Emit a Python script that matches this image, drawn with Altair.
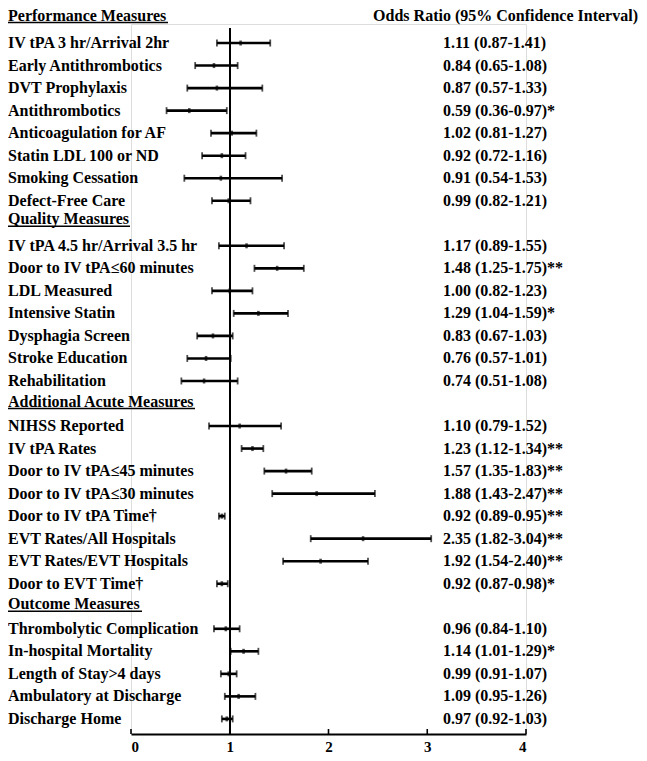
import altair as alt
import pandas as pd

# ---------------- data ----------------
sections = ["Performance Measures", "Quality Measures",
            "Additional Acute Measures", "Outcome Measures"]

perf_labels = ["IV tPA 3 hr/Arrival 2hr", "Early Antithrombotics", "DVT Prophylaxis",
               "Antithrombotics", "Anticoagulation for AF", "Statin LDL 100 or ND",
               "Smoking Cessation", "Defect-Free Care"]
perf_or = [1.11, 0.84, 0.87, 0.59, 1.02, 0.92, 0.91, 0.99]
perf_lo = [0.87, 0.65, 0.57, 0.36, 0.81, 0.72, 0.54, 0.82]
perf_hi = [1.41, 1.08, 1.33, 0.97, 1.27, 1.16, 1.53, 1.21]
perf_sig = ["", "", "", "*", "", "", "", ""]

qual_labels = ["IV tPA 4.5 hr/Arrival 3.5 hr", "Door to IV tPA\u226460 minutes", "LDL Measured",
               "Intensive Statin", "Dysphagia Screen", "Stroke Education", "Rehabilitation"]
qual_or = [1.17, 1.48, 1.00, 1.29, 0.83, 0.76, 0.74]
qual_lo = [0.89, 1.25, 0.82, 1.04, 0.67, 0.57, 0.51]
qual_hi = [1.55, 1.75, 1.23, 1.59, 1.03, 1.01, 1.08]
qual_sig = ["", "**", "", "*", "", "", ""]

acute_labels = ["NIHSS Reported", "IV tPA Rates", "Door to IV tPA\u226445 minutes",
                "Door to IV tPA\u226430 minutes", "Door to IV tPA Time\u2020",
                "EVT Rates/All Hospitals", "EVT Rates/EVT Hospitals", "Door to EVT Time\u2020"]
acute_or = [1.10, 1.23, 1.57, 1.88, 0.92, 2.35, 1.92, 0.92]
acute_lo = [0.79, 1.12, 1.35, 1.43, 0.89, 1.82, 1.54, 0.87]
acute_hi = [1.52, 1.34, 1.83, 2.47, 0.95, 3.04, 2.40, 0.98]
acute_sig = ["", "**", "**", "**", "**", "**", "**", "*"]

out_labels = ["Thrombolytic Complication", "In-hospital Mortality", "Length of Stay>4 days",
              "Ambulatory at Discharge", "Discharge Home"]
out_or = [0.96, 1.14, 0.99, 1.09, 0.97]
out_lo = [0.84, 1.01, 0.91, 0.95, 0.92]
out_hi = [1.10, 1.29, 1.07, 1.26, 1.03]
out_sig = ["", "*", "", "", ""]

tick_values = [0, 1, 2, 3, 4]
col_title = "Odds Ratio (95% Confidence Interval)"

# ---------------- styles ----------------
FONT = "Liberation Serif"
W, H = 395, 710
PAD_L, PAD_T, PAD_R, PAD_B = 123, 16, 113, 20
LABEL_X = -123
VALUE_X = 312
REF_TOP = 4
header_dy = [-5, -4, -2, -2]
underline_w = [160, 122, 187, 134]

groups = [
    (sections[0], perf_labels, perf_or, perf_lo, perf_hi, perf_sig),
    (sections[1], qual_labels, qual_or, qual_lo, qual_hi, qual_sig),
    (sections[2], acute_labels, acute_or, acute_lo, acute_hi, acute_sig),
    (sections[3], out_labels, out_or, out_lo, out_hi, out_sig),
]

rows, headers = [], []
r = 0
for sec, labels, ors, los, his, sigs in groups:
    headers.append({"row": r, "text": sec})
    r += 1
    for lab, o, lo, hi, s in zip(labels, ors, los, his, sigs):
        rows.append({"row": r, "label": lab, "or": o, "lo": lo, "hi": hi,
                     "txt": f"{o:.2f} ({lo:.2f}-{hi:.2f}){s}"})
        r += 1

df = pd.DataFrame(rows)
hdf = pd.DataFrame(headers)
tdf = pd.DataFrame({"t": tick_values})

yscale = alt.Scale(domain=[0.155, 31.67], reverse=True, nice=False, zero=False)
xscale = alt.Scale(domain=[0, 4], nice=False, zero=True)

base = alt.Chart(df)
Y = alt.Y("row:Q", scale=yscale, axis=None)

xaxis = alt.Axis(values=tick_values, tickSize=0, labelFont=FONT, labelFontSize=15,
                 labelFontWeight="bold", labelColor="black", domainColor="black",
                 domainWidth=2, grid=False, title=None, labelPadding=5, format="d")

bars = base.mark_rule(color="black", strokeWidth=2.6).encode(
    x=alt.X("lo:Q", scale=xscale, axis=xaxis), x2="hi:Q", y=Y)
cap_lo = base.mark_tick(color="black", orient="vertical", size=7, thickness=1.8).encode(
    x=alt.X("lo:Q", scale=xscale), y=Y)
cap_hi = base.mark_tick(color="black", orient="vertical", size=7, thickness=1.8).encode(
    x=alt.X("hi:Q", scale=xscale), y=Y)
pts = base.mark_tick(color="black", orient="vertical", size=5, thickness=2.6).encode(
    x=alt.X("or:Q", scale=xscale), y=Y)

refline = alt.Chart(df).mark_rule(color="black", strokeWidth=1.4).encode(
    x=alt.datum(1, scale=xscale), y=alt.value(REF_TOP), y2=alt.value(H))

axticks = alt.Chart(tdf).mark_rule(color="black", strokeWidth=1.6).encode(
    x=alt.X("t:Q", scale=xscale), y=alt.value(H), y2=alt.value(H - 5))

labels = base.mark_text(font=FONT, fontSize=16, fontWeight="bold", align="left",
                        baseline="middle", color="black").encode(
    x=alt.value(LABEL_X), y=Y, text="label:N")

values = base.mark_text(font=FONT, fontSize=16, fontWeight="bold", align="left",
                        baseline="middle", color="black").encode(
    x=alt.value(VALUE_X), y=Y, text="txt:N")

title_txt = alt.Chart(pd.DataFrame({"t": [col_title]})).mark_text(
    font=FONT, fontSize=16, fontWeight="bold", align="right", baseline="middle",
    color="black").encode(x=alt.value(W + PAD_R - 1), y=alt.value(-8.5), text="t:N")

hdr_layers = []
for i, h in enumerate(headers):
    hd = hdf[hdf["row"] == h["row"]]
    hdr_layers.append(alt.Chart(hd).mark_text(
        font=FONT, fontSize=16, fontWeight="bold", align="left", baseline="middle",
        color="black", dy=header_dy[i]).encode(x=alt.value(LABEL_X), y=Y, text="text:N"))
    hdr_layers.append(alt.Chart(hd).mark_rule(
        color="black", strokeWidth=1.6, yOffset=header_dy[i] + 7).encode(
        x=alt.value(LABEL_X), x2=alt.value(LABEL_X + underline_w[i]), y=Y))

chart = alt.layer(bars, cap_lo, cap_hi, pts, refline, axticks, labels, values,
                  title_txt, *hdr_layers).properties(
    width=W, height=H,
    autosize=alt.AutoSizeParams(type="none"),
    padding={"left": PAD_L, "top": PAD_T, "right": PAD_R, "bottom": PAD_B},
).configure_view(stroke=None).configure(background="white")

chart.save("out.html", embed_options={"renderer": "svg", "actions": False})
